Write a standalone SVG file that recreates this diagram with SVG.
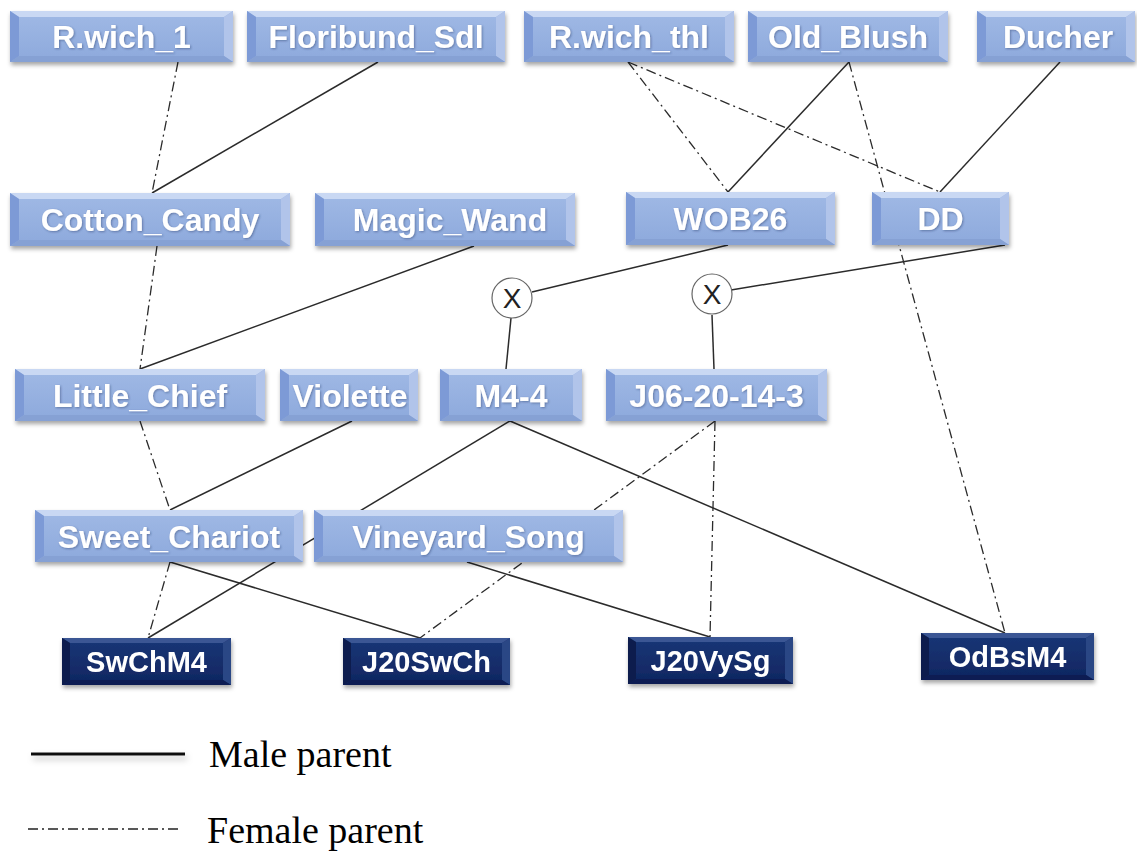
<svg xmlns="http://www.w3.org/2000/svg" width="1137" height="852" viewBox="0 0 1137 852">
<defs>
<linearGradient id="gl" x1="0" y1="0" x2="0" y2="1"><stop offset="0" stop-color="#a0b9e5"/><stop offset="1" stop-color="#8da9dc"/></linearGradient>
<linearGradient id="gd" x1="0" y1="0" x2="0" y2="1"><stop offset="0" stop-color="#1a3677"/><stop offset="1" stop-color="#0f2660"/></linearGradient>
<filter id="sh" x="-10%" y="-20%" width="120%" height="150%"><feDropShadow dx="1" dy="3" stdDeviation="2" flood-color="#000" flood-opacity="0.35"/></filter>
<filter id="ts" x="-10%" y="-30%" width="120%" height="160%"><feDropShadow dx="1" dy="1" stdDeviation="1" flood-color="#203060" flood-opacity="0.45"/></filter>
<filter id="ls" filterUnits="userSpaceOnUse" x="20" y="740" width="180" height="30"><feDropShadow dx="2" dy="4" stdDeviation="3" flood-color="#000" flood-opacity="0.25"/></filter>
</defs>
<style>
.face{fill:url(#gl)}
.top{fill:#c9d8f3}
.lft{fill:#7d9ad6}
.rgt{fill:#b1c4ea}
.bot{fill:#86a1d4}
.dface{fill:url(#gd)}
.dtop{fill:#3a5694}
.dlft{fill:#0a1d4d}
.drgt{fill:#2c4685}
.dbot{fill:#0b1f52}
.t{font-family:"Liberation Sans",Arial,sans-serif;font-weight:bold;font-size:32px;fill:#fff;text-anchor:middle;filter:url(#ts)}
.td{font-family:"Liberation Sans",Arial,sans-serif;font-weight:bold;font-size:29px;fill:#fff;text-anchor:middle}
.m{fill:none;stroke:#2b2b2b;stroke-width:1.5}
.f{fill:none;stroke:#2b2b2b;stroke-width:1.3;stroke-dasharray:10 4 2 4}
.leg{font-family:"Liberation Serif","Times New Roman",serif;font-size:38px;fill:#000}
.xc{fill:#fff;stroke:#666;stroke-width:1.2}
.xt{font-family:"Liberation Sans",Arial,sans-serif;font-size:28px;fill:#222;text-anchor:middle}
</style>
<rect width="1137" height="852" fill="#fff"/>
<g id="connectors">
<line class="f" x1="178" y1="62" x2="152" y2="193"/>
<line class="f" x1="157" y1="246" x2="140" y2="369"/>
<line class="f" x1="140" y1="421" x2="170" y2="510"/>
<line class="f" x1="170" y1="562" x2="148" y2="638"/>
<line class="f" x1="628" y1="62" x2="728" y2="192"/>
<line class="f" x1="628" y1="62" x2="940" y2="192"/>
<line class="f" x1="849" y1="62" x2="1005" y2="633"/>
<line class="f" x1="715" y1="421" x2="420" y2="638"/>
<line class="f" x1="715" y1="421" x2="710" y2="637"/>
<line class="m" x1="378" y1="62" x2="152" y2="193"/>
<line class="m" x1="474" y1="246" x2="140" y2="369"/>
<line class="m" x1="352" y1="421" x2="170" y2="510"/>
<line class="m" x1="849" y1="62" x2="728" y2="192"/>
<line class="m" x1="1060" y1="62" x2="940" y2="192"/>
<line class="m" x1="728" y1="245" x2="532" y2="292"/>
<line class="m" x1="1005" y1="245" x2="731" y2="290"/>
<line class="m" x1="511" y1="318" x2="506" y2="369"/>
<line class="m" x1="712" y1="315" x2="714" y2="369"/>
<line class="m" x1="510" y1="421" x2="148" y2="638"/>
<line class="m" x1="510" y1="421" x2="1005" y2="633"/>
<line class="m" x1="170" y1="562" x2="420" y2="638"/>
<line class="m" x1="467" y1="562" x2="710" y2="637"/>
</g>
<g id="R.wich_1" filter="url(#sh)"><rect class="face" x="10" y="11" width="223" height="51"/><polygon class="top" points="10,11 233,11 224,17 19,17"/><polygon class="lft" points="10,11 19,17 19,56 10,62"/><polygon class="rgt" points="233,11 233,62 224,56 224,17"/><polygon class="bot" points="10,62 19,56 224,56 233,62"/><text class="t" x="121.5" y="48">R.wich_1</text></g>
<g id="Floribund_Sdl" filter="url(#sh)"><rect class="face" x="247" y="11" width="258" height="51"/><polygon class="top" points="247,11 505,11 496,17 256,17"/><polygon class="lft" points="247,11 256,17 256,56 247,62"/><polygon class="rgt" points="505,11 505,62 496,56 496,17"/><polygon class="bot" points="247,62 256,56 496,56 505,62"/><text class="t" x="376" y="48">Floribund_Sdl</text></g>
<g id="R.wich_thl" filter="url(#sh)"><rect class="face" x="524" y="11" width="210" height="51"/><polygon class="top" points="524,11 734,11 725,17 533,17"/><polygon class="lft" points="524,11 533,17 533,56 524,62"/><polygon class="rgt" points="734,11 734,62 725,56 725,17"/><polygon class="bot" points="524,62 533,56 725,56 734,62"/><text class="t" x="629" y="48">R.wich_thl</text></g>
<g id="Old_Blush" filter="url(#sh)"><rect class="face" x="748" y="11" width="200" height="51"/><polygon class="top" points="748,11 948,11 939,17 757,17"/><polygon class="lft" points="748,11 757,17 757,56 748,62"/><polygon class="rgt" points="948,11 948,62 939,56 939,17"/><polygon class="bot" points="748,62 757,56 939,56 948,62"/><text class="t" x="848" y="48">Old_Blush</text></g>
<g id="Ducher" filter="url(#sh)"><rect class="face" x="977" y="11" width="158" height="51"/><polygon class="top" points="977,11 1135,11 1126,17 986,17"/><polygon class="lft" points="977,11 986,17 986,56 977,62"/><polygon class="rgt" points="1135,11 1135,62 1126,56 1126,17"/><polygon class="bot" points="977,62 986,56 1126,56 1135,62"/><text class="t" x="1058" y="48">Ducher</text></g>
<g id="Cotton_Candy" filter="url(#sh)"><rect class="face" x="10" y="193" width="280" height="53"/><polygon class="top" points="10,193 290,193 281,199 19,199"/><polygon class="lft" points="10,193 19,199 19,240 10,246"/><polygon class="rgt" points="290,193 290,246 281,240 281,199"/><polygon class="bot" points="10,246 19,240 281,240 290,246"/><text class="t" x="150" y="231">Cotton_Candy</text></g>
<g id="Magic_Wand" filter="url(#sh)"><rect class="face" x="315" y="193" width="260" height="53"/><polygon class="top" points="315,193 575,193 566,199 324,199"/><polygon class="lft" points="315,193 324,199 324,240 315,246"/><polygon class="rgt" points="575,193 575,246 566,240 566,199"/><polygon class="bot" points="315,246 324,240 566,240 575,246"/><text class="t" x="450" y="231">Magic_Wand</text></g>
<g id="WOB26" filter="url(#sh)"><rect class="face" x="626" y="192" width="209" height="53"/><polygon class="top" points="626,192 835,192 826,198 635,198"/><polygon class="lft" points="626,192 635,198 635,239 626,245"/><polygon class="rgt" points="835,192 835,245 826,239 826,198"/><polygon class="bot" points="626,245 635,239 826,239 835,245"/><text class="t" x="730.5" y="230">WOB26</text></g>
<g id="DD" filter="url(#sh)"><rect class="face" x="872" y="192" width="137" height="53"/><polygon class="top" points="872,192 1009,192 1000,198 881,198"/><polygon class="lft" points="872,192 881,198 881,239 872,245"/><polygon class="rgt" points="1009,192 1009,245 1000,239 1000,198"/><polygon class="bot" points="872,245 881,239 1000,239 1009,245"/><text class="t" x="940.5" y="230">DD</text></g>
<g id="X1"><circle class="xc" cx="512" cy="298" r="20"/><text class="xt" x="512" y="308">X</text></g>
<g id="X2"><circle class="xc" cx="712" cy="294" r="20"/><text class="xt" x="712" y="304">X</text></g>
<g id="Little_Chief" filter="url(#sh)"><rect class="face" x="15" y="369" width="250" height="52"/><polygon class="top" points="15,369 265,369 256,375 24,375"/><polygon class="lft" points="15,369 24,375 24,415 15,421"/><polygon class="rgt" points="265,369 265,421 256,415 256,375"/><polygon class="bot" points="15,421 24,415 256,415 265,421"/><text class="t" x="140" y="407">Little_Chief</text></g>
<g id="Violette" filter="url(#sh)"><rect class="face" x="280" y="369" width="138" height="52"/><polygon class="top" points="280,369 418,369 409,375 289,375"/><polygon class="lft" points="280,369 289,375 289,415 280,421"/><polygon class="rgt" points="418,369 418,421 409,415 409,375"/><polygon class="bot" points="280,421 289,415 409,415 418,421"/><text class="t" x="350" y="407">Violette</text></g>
<g id="M4-4" filter="url(#sh)"><rect class="face" x="440" y="369" width="142" height="52"/><polygon class="top" points="440,369 582,369 573,375 449,375"/><polygon class="lft" points="440,369 449,375 449,415 440,421"/><polygon class="rgt" points="582,369 582,421 573,415 573,375"/><polygon class="bot" points="440,421 449,415 573,415 582,421"/><text class="t" x="511" y="407">M4-4</text></g>
<g id="J06-20-14-3" filter="url(#sh)"><rect class="face" x="606" y="369" width="221" height="52"/><polygon class="top" points="606,369 827,369 818,375 615,375"/><polygon class="lft" points="606,369 615,375 615,415 606,421"/><polygon class="rgt" points="827,369 827,421 818,415 818,375"/><polygon class="bot" points="606,421 615,415 818,415 827,421"/><text class="t" x="716.5" y="407">J06-20-14-3</text></g>
<g id="Sweet_Chariot" filter="url(#sh)"><rect class="face" x="35" y="510" width="268" height="52"/><polygon class="top" points="35,510 303,510 294,516 44,516"/><polygon class="lft" points="35,510 44,516 44,556 35,562"/><polygon class="rgt" points="303,510 303,562 294,556 294,516"/><polygon class="bot" points="35,562 44,556 294,556 303,562"/><text class="t" x="169" y="548">Sweet_Chariot</text></g>
<g id="Vineyard_Song" filter="url(#sh)"><rect class="face" x="314" y="510" width="309" height="52"/><polygon class="top" points="314,510 623,510 614,516 323,516"/><polygon class="lft" points="314,510 323,516 323,556 314,562"/><polygon class="rgt" points="623,510 623,562 614,556 614,516"/><polygon class="bot" points="314,562 323,556 614,556 623,562"/><text class="t" x="468.5" y="548">Vineyard_Song</text></g>
<g id="SwChM4" filter="url(#sh)"><rect class="dface" x="62" y="638" width="169" height="47"/><polygon class="dtop" points="62,638 231,638 223,643 70,643"/><polygon class="dlft" points="62,638 70,643 70,680 62,685"/><polygon class="drgt" points="231,638 231,685 223,680 223,643"/><polygon class="dbot" points="62,685 70,680 223,680 231,685"/><text class="td" x="146.5" y="672">SwChM4</text></g>
<g id="J20SwCh" filter="url(#sh)"><rect class="dface" x="343" y="638" width="167" height="47"/><polygon class="dtop" points="343,638 510,638 502,643 351,643"/><polygon class="dlft" points="343,638 351,643 351,680 343,685"/><polygon class="drgt" points="510,638 510,685 502,680 502,643"/><polygon class="dbot" points="343,685 351,680 502,680 510,685"/><text class="td" x="426.5" y="672">J20SwCh</text></g>
<g id="J20VySg" filter="url(#sh)"><rect class="dface" x="628" y="637" width="165" height="47"/><polygon class="dtop" points="628,637 793,637 785,642 636,642"/><polygon class="dlft" points="628,637 636,642 636,679 628,684"/><polygon class="drgt" points="793,637 793,684 785,679 785,642"/><polygon class="dbot" points="628,684 636,679 785,679 793,684"/><text class="td" x="710.5" y="671">J20VySg</text></g>
<g id="OdBsM4" filter="url(#sh)"><rect class="dface" x="921" y="633" width="173" height="47"/><polygon class="dtop" points="921,633 1094,633 1086,638 929,638"/><polygon class="dlft" points="921,633 929,638 929,675 921,680"/><polygon class="drgt" points="1094,633 1094,680 1086,675 1086,638"/><polygon class="dbot" points="921,680 929,675 1086,675 1094,680"/><text class="td" x="1007.5" y="667">OdBsM4</text></g>
<g id="legend">
<line x1="31" y1="754" x2="185" y2="754" stroke="#111" stroke-width="3" filter="url(#ls)"/>
<text class="leg" x="209" y="767">Male parent</text>
<line x1="28" y1="829" x2="180" y2="829" stroke="#222" stroke-width="1.3" stroke-dasharray="10 4 2 4"/>
<text class="leg" x="207" y="843">Female parent</text>
</g>
</svg>
